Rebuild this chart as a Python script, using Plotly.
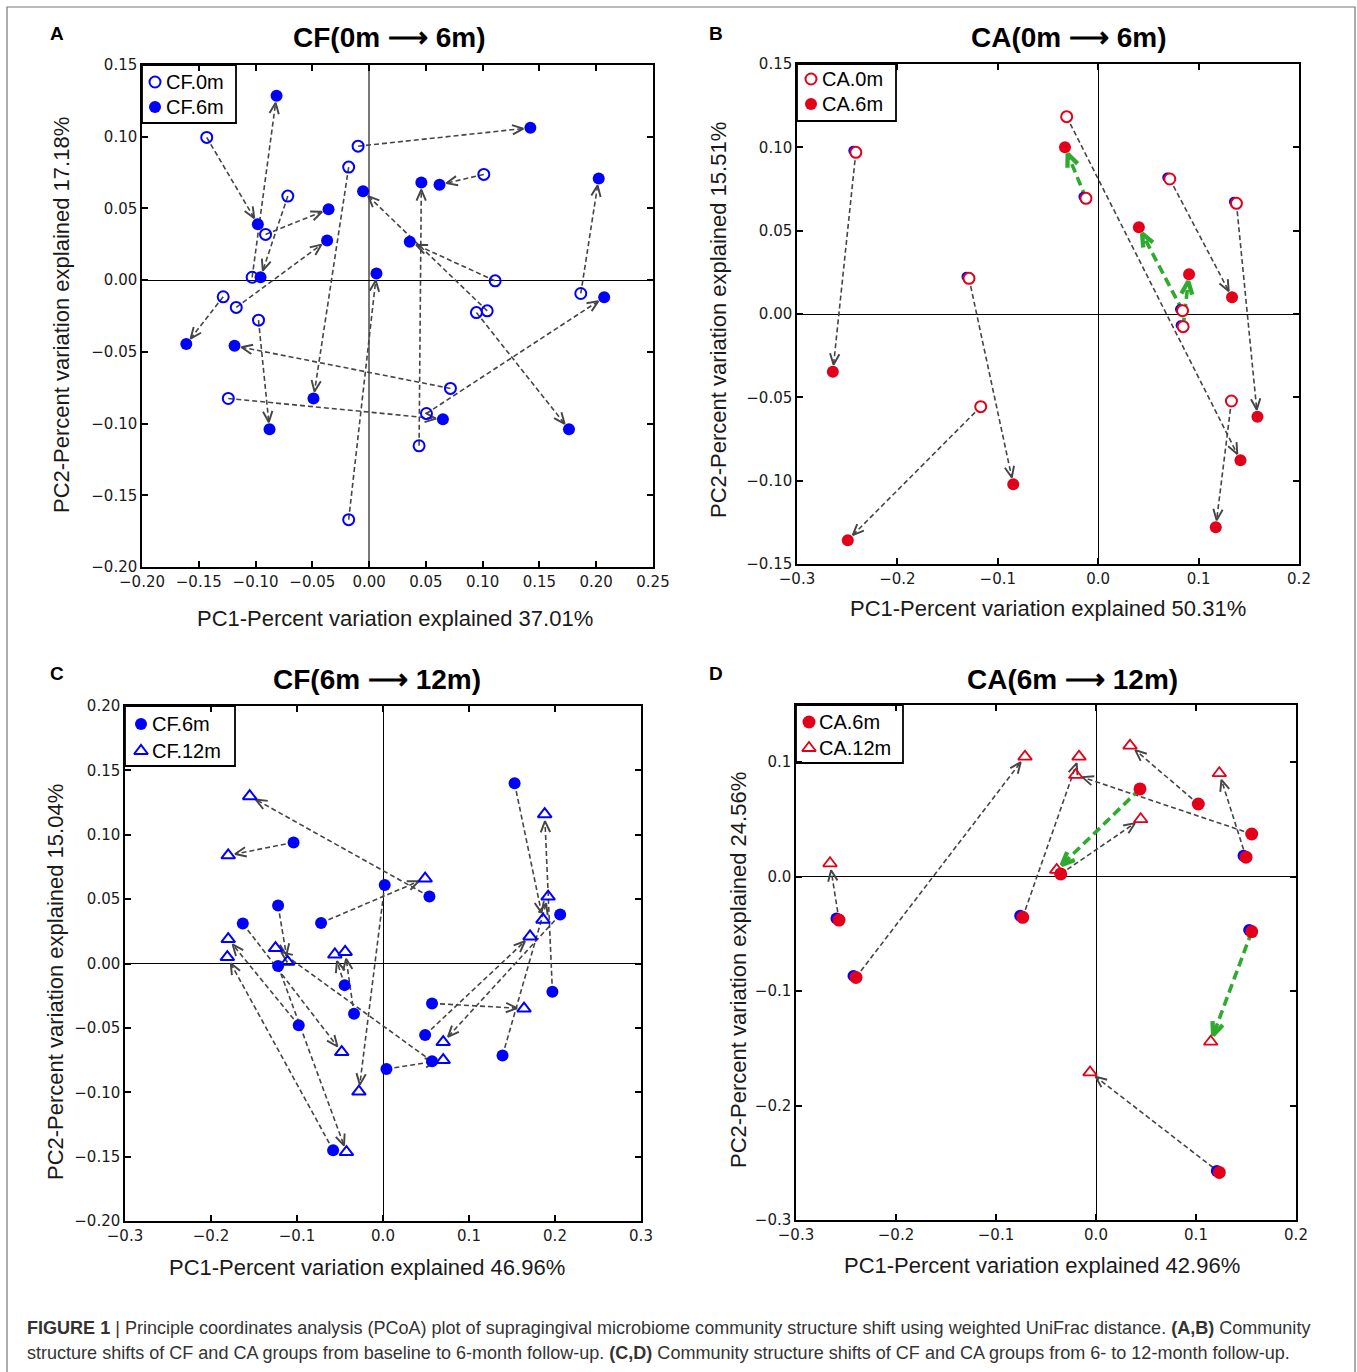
import math
import plotly.graph_objects as go

W, H = 1357, 1372

# ================= DATA =================
# Panel A : CF 0m -> 6m  (pairs: 0m point -> 6m point)
a_cf0m_x = [-0.143, -0.103, -0.0716, -0.0912, -0.0097, -0.018, -0.018, 0.111, 0.104, 0.0945,
            0.044, 0.101, 0.1864, 0.0505, 0.0716, -0.124, -0.0974, -0.117, -0.1285]
a_cf0m_y = [0.0995, 0.002, 0.0586, 0.0319, 0.0934, 0.0788, -0.167, -0.0005, -0.0214, -0.0226,
            -0.1155, 0.0737, -0.0093, -0.093, -0.0755, -0.0825, -0.0279, -0.019, -0.0116]
a_cf6m_x = [-0.098, -0.0815, -0.0956, -0.0357, 0.142, -0.049, 0.0065, 0.0358, -0.0053, 0.176,
            0.046, 0.062, 0.2022, 0.207, -0.1185, 0.065, -0.0877, -0.037, -0.161]
a_cf6m_y = [0.039, 0.1285, 0.002, 0.0495, 0.1062, -0.0825, 0.0047, 0.0267, 0.062, -0.104,
            0.068, 0.0665, 0.0709, -0.012, -0.0458, -0.097, -0.104, 0.0277, -0.0446]
a_green = [0] * 19

# Panel B : CA 0m -> 6m
b_ca0m_x = [-0.2414, -0.0314, -0.0122, -0.1287, 0.0713, 0.1377, 0.084, 0.0846, 0.1327, -0.117]
b_ca0m_y = [0.097, 0.1184, 0.0694, 0.0214, 0.081, 0.0664, 0.002, -0.0076, -0.0522, -0.0556]
b_ca6m_x = [-0.2643, 0.1417, -0.0331, -0.0846, 0.1333, 0.1586, 0.0405, 0.0905, 0.1171, -0.2494]
b_ca6m_y = [-0.0346, -0.0878, 0.100, -0.1022, 0.010, -0.0616, 0.052, 0.0238, -0.1279, -0.1357]
b_green = [0, 0, 1, 0, 0, 0, 1, 1, 0, 0]
b_shadow_idx = [0, 2, 3, 4, 5, 6, 7]      # start points with a blue point underneath

# Panel C : CF 6m -> 12m
c_cf6m_x = [0.153, 0.197, -0.104, 0.054, 0.002, -0.072, -0.122, -0.163, -0.122, -0.098,
            -0.058, -0.0446, -0.0337, 0.004, 0.057, 0.049, 0.057, 0.139, 0.206]
c_cf6m_y = [0.140, -0.022, 0.094, 0.052, 0.061, 0.0315, 0.045, 0.031, -0.002, -0.048,
            -0.145, -0.0168, -0.039, -0.082, -0.031, -0.0555, -0.076, -0.0715, 0.038]
c_cf12m_x = [0.186, 0.188, -0.180, -0.155, -0.028, 0.049, -0.111, -0.048, -0.0425, -0.180,
             -0.181, -0.056, -0.044, 0.070, 0.164, 0.171, -0.125, 0.192, 0.070]
c_cf12m_y = [0.034, 0.116, 0.084, 0.130, -0.0995, 0.066, 0.0013, -0.0688, -0.1465, 0.019,
             0.005, 0.007, 0.009, -0.075, -0.035, 0.021, 0.012, 0.052, -0.061]
c_green = [0] * 19

# Panel D : CA 6m -> 12m
d_ca6m_x = [-0.257, -0.240, -0.0733, 0.044, -0.0353, 0.1023, 0.1557, 0.150, 0.1557, 0.1233]
d_ca6m_y = [-0.0379, -0.088, -0.0355, 0.0767, 0.0024, 0.0635, 0.0373, 0.017, -0.048, -0.2584]
d_ca12m_x = [-0.266, -0.071, -0.017, -0.0393, 0.0447, 0.034, -0.0203, 0.1233, 0.1147, -0.006]
d_ca12m_y = [0.0117, 0.1049, 0.1049, 0.0059, 0.0502, 0.1145, 0.0889, 0.0904, -0.1442, -0.171]
d_green = [0, 0, 0, 1, 0, 0, 0, 0, 1, 0]
d_shadow_idx = [0, 1, 2, 7, 8, 9]

# Tick values / labels
a_xticks = [-0.20, -0.15, -0.10, -0.05, 0.00, 0.05, 0.10, 0.15, 0.20, 0.25]
a_xlabels = ["−0.20", "−0.15", "−0.10", "−0.05", "0.00", "0.05", "0.10", "0.15", "0.20", "0.25"]
a_yticks = [0.15, 0.10, 0.05, 0.00, -0.05, -0.10, -0.15, -0.20]
a_ylabels = ["0.15", "0.10", "0.05", "0.00", "−0.05", "−0.10", "−0.15", "−0.20"]
b_xticks = [-0.3, -0.2, -0.1, 0.0, 0.1, 0.2]
b_xlabels = ["−0.3", "−0.2", "−0.1", "0.0", "0.1", "0.2"]
b_yticks = [0.15, 0.10, 0.05, 0.00, -0.05, -0.10, -0.15]
b_ylabels = ["0.15", "0.10", "0.05", "0.00", "−0.05", "−0.10", "−0.15"]
c_xticks = [-0.3, -0.2, -0.1, 0.0, 0.1, 0.2, 0.3]
c_xlabels = ["−0.3", "−0.2", "−0.1", "0.0", "0.1", "0.2", "0.3"]
c_yticks = [0.20, 0.15, 0.10, 0.05, 0.00, -0.05, -0.10, -0.15, -0.20]
c_ylabels = ["0.20", "0.15", "0.10", "0.05", "0.00", "−0.05", "−0.10", "−0.15", "−0.20"]
d_xticks = [-0.3, -0.2, -0.1, 0.0, 0.1, 0.2]
d_xlabels = ["−0.3", "−0.2", "−0.1", "0.0", "0.1", "0.2"]
d_yticks = [0.1, 0.0, -0.1, -0.2, -0.3]
d_ylabels = ["0.1", "0.0", "−0.1", "−0.2", "−0.3"]

titles = ["CF(0m ⟶ 6m)", "CA(0m ⟶ 6m)", "CF(6m ⟶ 12m)", "CA(6m ⟶ 12m)"]
letters = ["A", "B", "C", "D"]
xtitles = ["PC1-Percent variation explained 37.01%", "PC1-Percent variation explained 50.31%",
           "PC1-Percent variation explained 46.96%", "PC1-Percent variation explained 42.96%"]
ytitles = ["PC2-Percent variation explained 17.18%", "PC2-Percent variation explained 15.51%",
           "PC2-Percent variation explained 15.04%", "PC2-Percent variation explained 24.56%"]
legend_names = {"A": ["CF.0m", "CF.6m"], "B": ["CA.0m", "CA.6m"],
                "C": ["CF.6m", "CF.12m"], "D": ["CA.6m", "CA.12m"]}
caption1 = ("<b>FIGURE 1</b> | Principle coordinates analysis (PCoA) plot of supragingival microbiome "
            "community structure shift using weighted UniFrac distance. <b>(A,B)</b> Community")
caption2 = ("structure shifts of CF and CA groups from baseline to 6-month follow-up. <b>(C,D)</b> "
            "Community structure shifts of CF and CA groups from 6- to 12-month follow-up.")

# ================= STYLE / LAYOUT =================
BLUE = "#0000ff"
RED = "#e2001a"
GRAY = "#454545"
GREEN = "#2eaa2e"
TICKFONT = dict(family="DejaVu Sans", size=15, color="#1a1a1a")
LABFONT = "Liberation Sans, Arial, sans-serif"

# plot-area boxes in pixels (left, top, right, bottom)
boxes = {
    "A": (142.0, 65.0, 653.0, 567.0),
    "B": (797.0, 64.0, 1299.0, 564.0),
    "C": (125.0, 706.0, 641.0, 1221.0),
    "D": (796.0, 705.0, 1296.0, 1220.0),
}
ranges = {
    "A": ((-0.20, 0.25), (-0.20, 0.15)),
    "B": ((-0.30, 0.20), (-0.15, 0.15)),
    "C": ((-0.30, 0.30), (-0.20, 0.20)),
    "D": ((-0.30, 0.20), (-0.30, 0.15)),
}
axid = {"A": ("x", "y", ""), "B": ("x2", "y2", "2"), "C": ("x3", "y3", "3"), "D": ("x4", "y4", "4")}

# custom legend geometry (pixels): box, marker x, text x, row centres
legend_geo = {
    "A": ((142, 65, 236, 123), 155, 164, (82, 107)),
    "B": ((797, 64, 896, 121), 811, 820, (79, 104)),
    "C": ((125, 706, 235, 766), 141, 150, (724, 751)),
    "D": ((796, 705, 903, 763), 809, 817, (722, 748)),
}


def scales(p):
    l, t, r, b = boxes[p]
    (x0, x1), (y0, y1) = ranges[p]
    return (r - l) / (x1 - x0), (b - t) / (y1 - y0)


def arrows(p, xs0, ys0, xs1, ys1, flags, want, standoff, head_len, half_deg):
    kx, ky = scales(p)
    bx, by, hx, hy = [], [], [], []
    a = math.radians(half_deg)
    for x0, y0, x1, y1, g in zip(xs0, ys0, xs1, ys1, flags):
        if g != want:
            continue
        dxp, dyp = (x1 - x0) * kx, (y1 - y0) * ky
        L = math.hypot(dxp, dyp)
        ux, uy = dxp / L, dyp / L
        tx, ty = x1 - standoff * ux / kx, y1 - standoff * uy / ky
        bx += [x0, tx, None]
        by += [y0, ty, None]
        wings = []
        for s in (1, -1):
            ca, sa = math.cos(s * a), math.sin(s * a)
            wx = -(ux * ca - uy * sa)
            wy = -(ux * sa + uy * ca)
            wings.append((tx + head_len * wx / kx, ty + head_len * wy / ky))
        hx += [wings[0][0], tx, wings[1][0], None]
        hy += [wings[0][1], ty, wings[1][1], None]
    return bx, by, hx, hy


fig = go.Figure()


def add_arrows(p, xs0, ys0, xs1, ys1, flags, standoff):
    xa, ya, _ = axid[p]
    for want, col, w, dash, hl in ((0, GRAY, 1.6, "5px,3px", 12), (1, GREEN, 3.6, "9px,5px", 14)):
        if want not in flags:
            continue
        bx, by, hx, hy = arrows(p, xs0, ys0, xs1, ys1, flags, want, standoff, hl, 23)
        fig.add_trace(go.Scatter(x=bx, y=by, mode="lines", xaxis=xa, yaxis=ya, showlegend=False,
                                 hoverinfo="skip", line=dict(color=col, width=w, dash=dash)))
        fig.add_trace(go.Scatter(x=hx, y=hy, mode="lines", xaxis=xa, yaxis=ya, showlegend=False,
                                 hoverinfo="skip", line=dict(color=col, width=w * 1.2)))


def add_shadow(p, xs, ys, idx, size):
    kx, ky = scales(p)
    xa, ya, _ = axid[p]
    sx = [xs[i] - 2.5 / kx for i in idx]
    sy = [ys[i] + 1.5 / ky for i in idx]
    fig.add_trace(go.Scatter(x=sx, y=sy, mode="markers", xaxis=xa, yaxis=ya, showlegend=False,
                             hoverinfo="skip", marker=dict(symbol="circle", size=size, color=BLUE)))


def mk(symbol, color, size, lw, fill=None):
    return dict(symbol=symbol, size=size, color=fill if fill else color,
                line=dict(color=color, width=lw))


STY = {
    "A": [mk("circle-open", BLUE, 11, 2), mk("circle", BLUE, 12, 0)],
    "B": [mk("circle", RED, 11, 2, fill="white"), mk("circle", RED, 12, 0)],
    "C": [mk("circle", BLUE, 12, 0), mk("triangle-up-open", BLUE, 12, 2)],
    "D": [mk("circle", RED, 13, 0), mk("triangle-up-open", RED, 12, 1.8)],
}


def add_points(p, x, y, name, k):
    xa, ya, _ = axid[p]
    fig.add_trace(go.Scatter(x=x, y=y, mode="markers", name=name, xaxis=xa, yaxis=ya,
                             showlegend=False, marker=STY[p][k]))


# Panel A
add_arrows("A", a_cf0m_x, a_cf0m_y, a_cf6m_x, a_cf6m_y, a_green, 7)
add_points("A", a_cf0m_x, a_cf0m_y, "CF.0m", 0)
add_points("A", a_cf6m_x, a_cf6m_y, "CF.6m", 1)
# Panel B
add_arrows("B", b_ca0m_x, b_ca0m_y, b_ca6m_x, b_ca6m_y, b_green, 7)
add_shadow("B", b_ca0m_x, b_ca0m_y, b_shadow_idx, 10)
add_points("B", b_ca0m_x, b_ca0m_y, "CA.0m", 0)
add_points("B", b_ca6m_x, b_ca6m_y, "CA.6m", 1)
# Panel C
add_arrows("C", c_cf6m_x, c_cf6m_y, c_cf12m_x, c_cf12m_y, c_green, 7)
add_points("C", c_cf6m_x, c_cf6m_y, "CF.6m", 0)
add_points("C", c_cf12m_x, c_cf12m_y, "CF.12m", 1)
# Panel D
add_arrows("D", d_ca6m_x, d_ca6m_y, d_ca12m_x, d_ca12m_y, d_green, 7)
add_shadow("D", d_ca6m_x, d_ca6m_y, d_shadow_idx, 12)
add_points("D", d_ca6m_x, d_ca6m_y, "CA.6m", 0)
add_points("D", d_ca12m_x, d_ca12m_y, "CA.12m", 1)

layout = dict(width=W, height=H, margin=dict(l=0, r=0, t=0, b=0, autoexpand=False),
              paper_bgcolor="white", plot_bgcolor="rgba(0,0,0,0)", showlegend=False,
              annotations=[], shapes=[])

ticks = {"A": (a_xticks, a_xlabels, a_yticks, a_ylabels), "B": (b_xticks, b_xlabels, b_yticks, b_ylabels),
         "C": (c_xticks, c_xlabels, c_yticks, c_ylabels), "D": (d_xticks, d_xlabels, d_yticks, d_ylabels)}

for p in "ABCD":
    l, t, r, b = boxes[p]
    (x0, x1), (y0, y1) = ranges[p]
    xa, ya, suf = axid[p]
    xt, xl, yt, yl = ticks[p]
    common = dict(showgrid=False, showline=True, linecolor="black", linewidth=1.5, mirror="allticks",
                  ticks="inside", ticklen=6, tickwidth=1.5, tickcolor="black", tickfont=TICKFONT,
                  zeroline=True, zerolinewidth=1.2, zerolinecolor="black", fixedrange=True,
                  automargin=False)
    layout["xaxis" + suf] = dict(common, domain=[l / W, r / W], range=[x0, x1], anchor=ya,
                                 tickmode="array", tickvals=xt, ticktext=xl)
    layout["yaxis" + suf] = dict(common, domain=[1 - b / H, 1 - t / H], range=[y0, y1], anchor=xa,
                                 tickmode="array", tickvals=yt, ticktext=yl)
layout["xaxis"]["zerolinecolor"] = "#777777"
layout["xaxis"]["zerolinewidth"] = 1.5

# overlay axis in pixel units, used only for the legend symbols
layout["xaxis5"] = dict(domain=[0, 1], range=[0, W], visible=False, fixedrange=True,
                        anchor="y5", automargin=False)
layout["yaxis5"] = dict(domain=[0, 1], range=[H, 0], visible=False, fixedrange=True,
                        anchor="x5", automargin=False)


def ann(text, px, py, size, family, bold=False, angle=0, xanchor="center", color="black"):
    layout["annotations"].append(dict(
        text=("<b>%s</b>" % text) if bold else text, x=px / W, y=1 - py / H, xref="paper", yref="paper",
        xanchor=xanchor, yanchor="middle", showarrow=False, textangle=angle,
        font=dict(family=family, size=size, color=color)))


for p in "ABCD":
    (bl, bt, br, bb), mx, tx, rows = legend_geo[p]
    layout["shapes"].append(dict(type="rect", xref="paper", yref="paper", x0=bl / W, x1=br / W,
                                 y0=1 - bb / H, y1=1 - bt / H, line=dict(color="black", width=1.8),
                                 fillcolor="white", layer="below"))
    for k in range(2):
        fig.add_trace(go.Scatter(x=[mx], y=[rows[k]], mode="markers", xaxis="x5", yaxis="y5",
                                 showlegend=False, hoverinfo="skip", marker=STY[p][k]))
        ann(legend_names[p][k], tx, rows[k], 20, LABFONT, xanchor="left")

title_pos = [(389, 37), (1069, 37), (377, 679), (1072, 679)]
letter_pos = [(57, 33), (716, 33), (57, 674), (716, 674)]
xt_pos = [(395, 618), (1048, 608), (367, 1267), (1042, 1265)]
yt_pos = [(62, 315), (718, 320), (56, 982), (738, 970)]
for i in range(4):
    ann(titles[i], *title_pos[i], 28, LABFONT, bold=True)
    ann(letters[i], *letter_pos[i], 19, LABFONT, bold=True)
    ann(xtitles[i], *xt_pos[i], 22, LABFONT, color="#1a1a1a")
    ann(ytitles[i], *yt_pos[i], 22, LABFONT, angle=-90, color="#1a1a1a")

ann(caption1, 25, 1328, 18.05, LABFONT, xanchor="left", color="#333333")
ann(caption2, 25, 1353, 18.05, LABFONT, xanchor="left", color="#333333")

layout["shapes"].append(dict(type="rect", xref="paper", yref="paper", x0=7 / W, x1=1355 / W,
                             y0=-0.02, y1=1 - 7 / H, line=dict(color="#777777", width=1.2),
                             layer="below"))

fig.update_layout(**layout)
fig.write_html("out.html", config={"displayModeBar": False},
               post_script="document.body.style.margin='0px';")
